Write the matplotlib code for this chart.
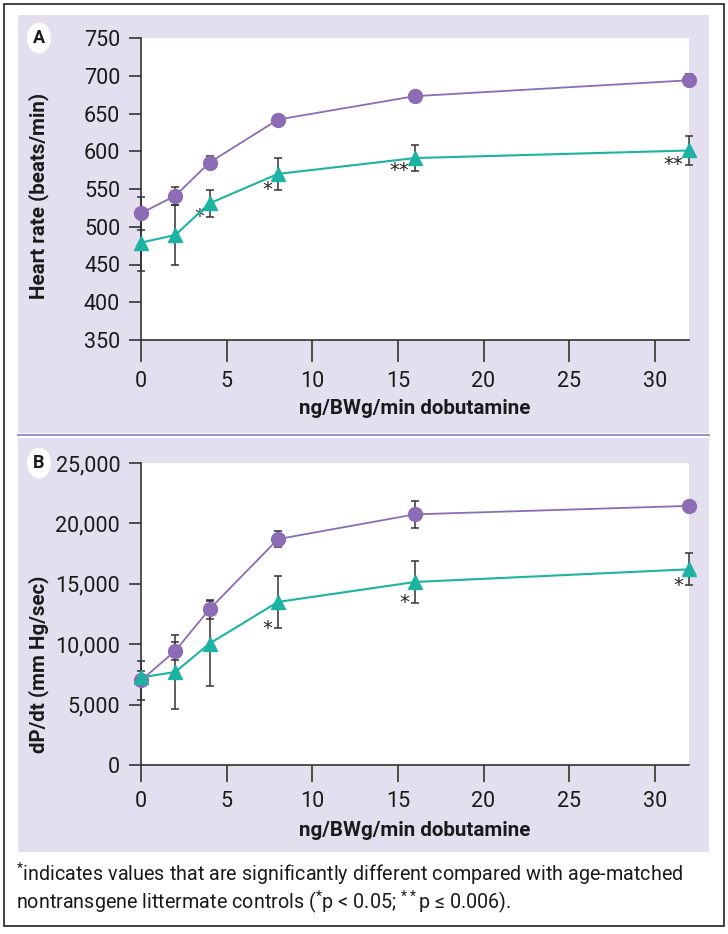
import matplotlib
matplotlib.use("Agg")
import matplotlib.pyplot as plt
from matplotlib.patches import Rectangle, Circle
from matplotlib.lines import Line2D

plt.rcParams['font.family'] = ['Roboto', 'DejaVu Sans']
plt.rcParams['mathtext.fontset'] = 'custom'
plt.rcParams['mathtext.rm'] = 'Roboto'

# dose of dobutamine (ng/BWg/min)
dose = [0, 2, 4, 8, 16, 32]

# panel A: heart rate (beats/min)
hr_ctrl = [518, 541, 585, 642, 673, 694]
hr_ctrl_err = [22, 12, 9, 6, 5, 8]
hr_tg = [479, 489, 531, 570, 591, 601]
hr_tg_err = [38, 40, 18, 21, 17, 19]
hr_stars = [(4, "*"), (8, "*"), (16, "**"), (32, "**")]

# panel B: dP/dt (mm Hg/sec)
dp_ctrl = [7000, 9450, 12900, 18700, 20750, 21450]
dp_ctrl_err = [1600, 720, 780, 650, 1100, 300]
dp_tg = [7250, 7700, 10050, 13500, 15150, 16200]
dp_tg_err = [500, 3100, 3550, 2170, 1700, 1330]
dp_stars = [(8, "*"), (16, "*"), (32, "*")]

purple = "#8c6cb4"
teal = "#1db3a3"
lav = "#e4dfee"

W, H = 728, 934
fig = plt.figure(figsize=(W / 100, H / 100), dpi=100)
fig.patch.set_facecolor("white")


def fx(px):
    return px / W


def fy(py):
    return 1 - py / H


# outer frame and lavender panels (behind the axes)
fig.patches.append(Rectangle((fx(4), fy(926)), fx(720), 922 / H, transform=fig.transFigure,
                             fill=False, edgecolor="#222222", lw=1.2, zorder=-5))
fig.patches.append(Rectangle((fx(18), fy(433)), fx(691), 418 / H, transform=fig.transFigure,
                             facecolor=lav, edgecolor="none", zorder=-5))
fig.patches.append(Rectangle((fx(18), fy(852)), fx(691), 414 / H, transform=fig.transFigure,
                             facecolor=lav, edgecolor="none", zorder=-5))
fig.lines.append(Line2D([fx(18), fx(709)], [fy(435), fy(435)], transform=fig.transFigure,
                        color="#9d92c6", lw=1.5, zorder=-4))


def panel(top_px, ctrl, ctrl_err, tg, tg_err, stars, ylim, yticks, ylabels, ylabel, letter,
          xtick_len, xtick_pad, xlabel_pad, ylabel_y):
    ax = fig.add_axes([fx(141), fy(top_px + 302), 548 / W, 302 / H])
    ax.set_facecolor("white")
    ax.errorbar(dose, ctrl, yerr=ctrl_err, fmt="none", ecolor="#333333", elinewidth=1.1,
                capsize=3, capthick=1.1, zorder=2, clip_on=False)
    ax.errorbar(dose, tg, yerr=tg_err, fmt="none", ecolor="#333333", elinewidth=1.1,
                capsize=3, capthick=1.1, zorder=2, clip_on=False)
    ax.plot(dose, ctrl, color=purple, lw=1.3, marker="o", ms=10, mec=purple, mfc=purple,
            zorder=3, clip_on=False)
    ax.plot(dose, tg, color=teal, lw=1.5, marker="^", ms=10.5, mec=teal, mfc=teal,
            zorder=4, clip_on=False)
    for xv, s in stars:
        i = dose.index(xv)
        ax.annotate(s, (xv, tg[i] - tg_err[i]), xytext=(-4, 0), textcoords="offset points",
                    ha="right", va="center", fontsize=14, family="DejaVu Sans",
                    color="#222222")
    ax.set_xlim(0, 32)
    ax.set_ylim(*ylim)
    ax.set_xticks([0, 5, 10, 15, 20, 25, 30])
    ax.set_yticks(yticks)
    ax.set_yticklabels(ylabels)
    for s in ["top", "right"]:
        ax.spines[s].set_visible(False)
    for s in ["left", "bottom"]:
        ax.spines[s].set_color("#333333")
        ax.spines[s].set_linewidth(1.2)
    ax.tick_params(direction="out", width=1.2, color="#333333", labelsize=15.5,
                   labelcolor="#1a1a1a")
    ax.tick_params(axis="x", length=xtick_len, pad=xtick_pad)
    ax.tick_params(axis="y", length=9, pad=6)
    ax.set_xlabel("ng/BWg/min dobutamine", fontsize=14.8, fontweight="bold",
                  labelpad=xlabel_pad, color="#1a1a1a")
    ax.set_ylabel(ylabel, fontsize=14.8, fontweight="bold", color="#1a1a1a")
    ax.yaxis.set_label_coords((49 - 141) / 548, ylabel_y)
    # panel letter
    fig.patches.append(Circle((fx(39), fy(top_px)), 12 / W, transform=fig.transFigure,
                              facecolor="white", edgecolor="none", zorder=-3))
    fig.text(fx(39), fy(top_px), letter, ha="center", va="center", fontsize=13,
             fontweight="bold", color="#1a1a1a")
    return ax


panel(38, hr_ctrl, hr_ctrl_err, hr_tg, hr_tg_err, hr_stars, (350, 750),
      [350, 400, 450, 500, 550, 600, 650, 700, 750],
      ["350", "400", "450", "500", "550", "600", "650", "700", "750"],
      "Heart rate (beats/min)", "A", 16, 6, 5, 0.477)

panel(463, dp_ctrl, dp_ctrl_err, dp_tg, dp_tg_err, dp_stars, (0, 25000),
      [0, 5000, 10000, 15000, 20000, 25000],
      ["0", "5,000", "10,000", "15,000", "20,000", "25,000"],
      "dP/dt (mm Hg/sec)", "B", 12, 7, 6, 0.334)

fig.text(fx(16), fy(874), r"$^{*}$indicates values that are significantly different compared with age-matched",
         ha="left", va="center", fontsize=14.2, color="#1a1a1a")
fig.text(fx(16), fy(902), r"nontransgene littermate controls ($^{*}$p < 0.05; $^{**}$p ≤ 0.006).",
         ha="left", va="center", fontsize=14.2, color="#1a1a1a")

fig.savefig("out.png", dpi=100, facecolor=fig.get_facecolor())
